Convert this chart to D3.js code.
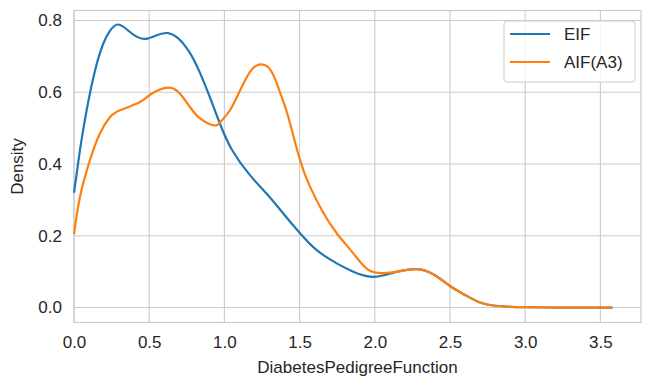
<!DOCTYPE html>
<html>
<head>
<meta charset="utf-8">
<script src="https://cdn.jsdelivr.net/npm/d3@7"></script>
<style>
  body { margin: 0; background: #fff; }
  text { font-family: "Liberation Sans", Arial, sans-serif; fill: #262626; }
</style>
</head>
<body>
<div id="chart"></div>
<script>
// KDE curves
const eifX = [0, 0.04, 0.084, 0.14, 0.195, 0.24, 0.295, 0.372, 0.479, 0.627, 0.76, 0.84, 0.9, 0.97, 1.05, 1.17, 1.28, 1.39, 1.503, 1.614, 1.747, 1.857, 1.968, 2.06, 2.15, 2.28, 2.4, 2.5, 2.6, 2.7, 2.8, 2.9, 3.0, 3.2, 3.4, 3.58];
const eifY = [0.32, 0.44, 0.55, 0.661, 0.736, 0.772, 0.789, 0.768, 0.749, 0.765, 0.717, 0.652, 0.59, 0.513, 0.44, 0.369, 0.318, 0.263, 0.207, 0.16, 0.123, 0.1, 0.086, 0.09, 0.1, 0.107, 0.09, 0.06, 0.035, 0.014, 0.005, 0.002, 0.001, 0.0, 0.0, 0.0];

const aifX = [0, 0.04, 0.106, 0.173, 0.24, 0.306, 0.439, 0.516, 0.627, 0.705, 0.771, 0.838, 0.926, 0.973, 1.037, 1.104, 1.17, 1.215, 1.248, 1.292, 1.336, 1.381, 1.425, 1.503, 1.569, 1.647, 1.747, 1.857, 1.957, 2.057, 2.15, 2.28, 2.4, 2.5, 2.6, 2.7, 2.8, 2.9, 3.0, 3.2, 3.4, 3.58];
const aifY = [0.205, 0.309, 0.411, 0.486, 0.531, 0.55, 0.573, 0.596, 0.613, 0.596, 0.559, 0.527, 0.508, 0.517, 0.55, 0.605, 0.657, 0.675, 0.678, 0.67, 0.638, 0.587, 0.531, 0.411, 0.337, 0.272, 0.207, 0.151, 0.105, 0.096, 0.1, 0.107, 0.09, 0.06, 0.035, 0.014, 0.005, 0.002, 0.001, 0.0, 0.0, 0.0];

const seriesNames = ["EIF", "AIF(A3)"];
const colors = ["#1f77b4", "#ff7f0e"];
const xTicks = [0, 0.5, 1.0, 1.5, 2.0, 2.5, 3.0, 3.5];
const yTicks = [0, 0.2, 0.4, 0.6, 0.8];

const W = 645, H = 378;
const margin = { top: 10.5, right: 4, bottom: 55.5, left: 74 };
const width = W - margin.left - margin.right;
const height = H - margin.top - margin.bottom;
const fontSize = "17px";

const svg = d3.select("#chart").append("svg")
    .attr("width", W)
    .attr("height", H);

const g = svg.append("g")
    .attr("transform", "translate(" + margin.left + "," + margin.top + ")");

const x = d3.scaleLinear().domain([0, 3.77]).range([0, width]);
const y = d3.scaleLinear().domain([-0.0417, 0.828]).range([height, 0]);

// grid
g.selectAll(".vgrid").data(xTicks).enter().append("line")
    .attr("x1", d => x(d)).attr("x2", d => x(d))
    .attr("y1", 0).attr("y2", height)
    .attr("stroke", "#cccccc").attr("stroke-width", 1.1);
g.selectAll(".hgrid").data(yTicks).enter().append("line")
    .attr("x1", 0).attr("x2", width)
    .attr("y1", d => y(d)).attr("y2", d => y(d))
    .attr("stroke", "#cccccc").attr("stroke-width", 1.1);

// frame
g.append("rect")
    .attr("width", width).attr("height", height)
    .attr("fill", "none").attr("stroke", "#cccccc").attr("stroke-width", 1.2);

// axes (labels only, seaborn whitegrid has no tick marks)
const xAxis = g.append("g")
    .attr("transform", "translate(0," + height + ")")
    .call(d3.axisBottom(x).tickValues(xTicks).tickFormat(d3.format(".1f")).tickSize(0).tickPadding(13));
const yAxis = g.append("g")
    .call(d3.axisLeft(y).tickValues(yTicks).tickFormat(d3.format(".1f")).tickSize(0).tickPadding(12));
[xAxis, yAxis].forEach(a => {
    a.select(".domain").remove();
    a.selectAll("text").style("font-size", fontSize).attr("fill", "#262626")
        .style("font-family", "'Liberation Sans', Arial, sans-serif");
});

// curves
const line = d3.line()
    .x(d => x(d[0]))
    .y(d => y(d[1]))
    .curve(d3.curveNatural);

const data = [d3.zip(eifX, eifY), d3.zip(aifX, aifY)];
data.forEach((pts, i) => {
    g.append("path")
        .datum(pts)
        .attr("fill", "none")
        .attr("stroke", colors[i])
        .attr("stroke-width", 2.2)
        .attr("stroke-linejoin", "round")
        .attr("d", line);
});

// axis titles
svg.append("text")
    .attr("x", margin.left + width / 2)
    .attr("y", 373)
    .attr("text-anchor", "middle")
    .style("font-size", fontSize)
    .text("DiabetesPedigreeFunction");

svg.append("text")
    .attr("transform", "translate(23," + (margin.top + height / 2) + ") rotate(-90)")
    .attr("text-anchor", "middle")
    .style("font-size", fontSize)
    .text("Density");

// legend
const legend = g.append("g")
    .attr("transform", "translate(" + (504 - margin.left) + "," + (21 - margin.top) + ")");
legend.append("rect")
    .attr("width", 131).attr("height", 61).attr("rx", 3)
    .attr("fill", "#ffffff").attr("fill-opacity", 0.8)
    .attr("stroke", "#cccccc").attr("stroke-width", 1);

const items = legend.selectAll(".legend-item")
    .data(seriesNames)
    .enter().append("g")
    .attr("transform", (d, i) => "translate(0," + (13 + i * 28) + ")");
items.append("line")
    .attr("x1", 6).attr("x2", 46)
    .attr("y1", 0).attr("y2", 0)
    .attr("stroke", (d, i) => colors[i])
    .attr("stroke-width", 2.2);
items.append("text")
    .attr("x", 60).attr("y", 0).attr("dy", "0.35em")
    .style("font-size", fontSize)
    .text(d => d);
</script>
</body>
</html>
